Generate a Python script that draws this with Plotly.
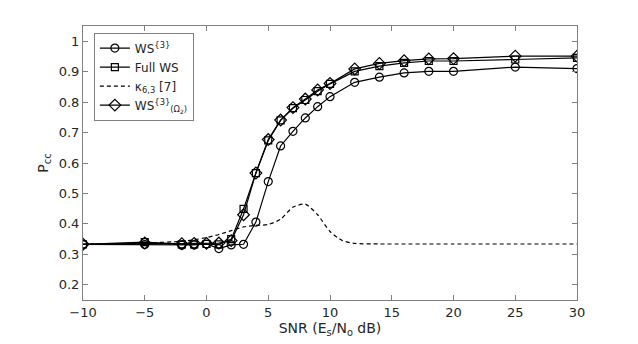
"""Pcc vs SNR comparison chart."""

import plotly.graph_objects as go

snr = [-10, -5, -2, -1, 0, 1, 2, 3, 4, 5, 6, 7, 8, 9, 10, 12, 14, 16, 18, 20, 25, 30]

ws3 = [0.333, 0.332, 0.330, 0.331, 0.334, 0.319, 0.331, 0.333, 0.406, 0.539, 0.656,
       0.704, 0.748, 0.785, 0.818, 0.865, 0.882, 0.896, 0.901, 0.901, 0.915, 0.910]
full_ws = [0.333, 0.340, 0.333, 0.333, 0.334, 0.333, 0.350, 0.449, 0.567, 0.674, 0.740,
           0.780, 0.807, 0.836, 0.860, 0.901, 0.918, 0.929, 0.935, 0.935, 0.940, 0.945]
ws3_omega = [0.333, 0.337, 0.335, 0.336, 0.336, 0.337, 0.345, 0.430, 0.567, 0.677, 0.741,
             0.782, 0.810, 0.840, 0.861, 0.909, 0.927, 0.936, 0.942, 0.943, 0.951, 0.951]

snr_kappa = [-10, -5, -2, -1, 0, 1, 2, 3, 4, 5, 6, 7, 8, 9, 10, 11, 12, 14, 16, 18, 20, 25, 30]
kappa = [0.333, 0.337, 0.343, 0.348, 0.355, 0.365, 0.378, 0.390, 0.395, 0.398, 0.415, 0.455,
         0.465, 0.430, 0.375, 0.345, 0.336, 0.334, 0.334, 0.334, 0.334, 0.334, 0.334]

x_ticks = [-10, -5, 0, 5, 10, 15, 20, 25, 30]
y_ticks = [0.2, 0.3, 0.4, 0.5, 0.6, 0.7, 0.8, 0.9, 1]

AXIS_GREY = "#808080"
TEXT = "#262626"

fig = go.Figure()
line = dict(color="black", width=1.2)
fig.add_trace(go.Scatter(x=snr, y=ws3, mode="lines+markers", name="WS<sup>{3}</sup>", line=line,
                         marker=dict(symbol="circle-open", size=8, color="black", line=dict(width=1.2))))
fig.add_trace(go.Scatter(x=snr, y=full_ws, mode="lines+markers", name="Full WS", line=line,
                         marker=dict(symbol="square-open", size=7, color="black", line=dict(width=1.2))))
fig.add_trace(go.Scatter(x=snr_kappa, y=kappa, mode="lines", name="κ<sub>6,3</sub> [7]",
                         line=dict(color="black", width=1.2, dash="4px,3px", shape="spline", smoothing=0.6)))
fig.add_trace(go.Scatter(x=snr, y=ws3_omega, mode="lines+markers",
                         name="WS<sup>{3}</sup><sub>(Ω<sub>2</sub>)</sub>", line=line,
                         marker=dict(symbol="diamond-open", size=9, color="black", line=dict(width=1.2))))

axis_common = dict(showline=True, linecolor=AXIS_GREY, linewidth=1, mirror="ticks", ticks="inside",
                   ticklen=5, tickcolor=AXIS_GREY, showgrid=False, zeroline=False,
                   tickfont=dict(size=13, color=TEXT))
fig.update_xaxes(range=[-10, 30], tickvals=x_ticks, title=dict(text="SNR (E<sub>s</sub>/N<sub>o</sub> dB)",
                 font=dict(size=14, color=TEXT), standoff=4), **axis_common)
fig.update_yaxes(range=[0.15, 1.05], tickvals=y_ticks, title=dict(text="P<sub>cc</sub>",
                 font=dict(size=14, color=TEXT), standoff=6), **axis_common)

# page body has an 8px margin, so the figure is shrunk and shifted to fit the window
fig.update_layout(
    width=630, height=336,
    margin=dict(l=75, r=61, t=18, b=44),
    paper_bgcolor="white", plot_bgcolor="white",
    font=dict(family="DejaVu Sans", color=TEXT),
    legend=dict(x=0.022, y=0.976, xanchor="left", yanchor="top", bgcolor="white",
                bordercolor=AXIS_GREY, borderwidth=1, itemwidth=30, tracegroupgap=0,
                font=dict(size=12, color=TEXT)),
    showlegend=True,
)

fig.write_html("out.html")
